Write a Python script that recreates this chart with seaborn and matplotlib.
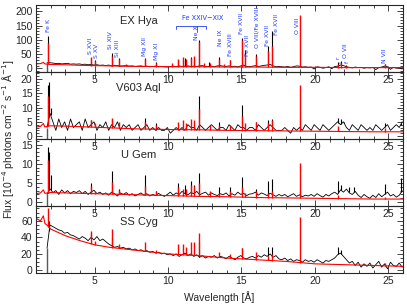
import numpy as np
import matplotlib
matplotlib.use("Agg")
import matplotlib.pyplot as plt
from matplotlib.ticker import MultipleLocator
import seaborn as sns

# measured spectra are binned on a regular grid starting at the detector edge
bin_start = 1.75
bin_step = 0.2

# wavelengths where the model continuum is sampled
knots = [1.0, 1.3, 1.5, 1.6, 1.8, 2, 3, 4, 5, 6, 7, 8, 9, 10,
         12, 14, 16, 18, 20, 22, 24, 26]

# ---- EX Hya
exhya_flux = [20, 20, 19, 17, 18, 16, 17, 18, 15, 16,
              15, 16, 14, 15, 13, 14, 12, 13, 11, 12,
              10, 12, 9, 11, 10, 8, 9, 10, 8, 9,
              7, 8, 9, 7, 8, 6, 7, 8, 6, 7,
              6, 5, 7, 8, 6, 9, 7, 8, 9, 7,
              8, 7, 9, 10, 6, 7, 8, 6, 9, 10,
              8, 7, 9, 6, 8, 5, 9, 12, 7, 6,
              8, 10, 7, 9, 11, 12, 14, 9, 6, 7,
              6, 5, 7, 4, 6, 9, 8, 5, 6, 4,
              5, -2, 6, 4, 1, 3, 6, -1, 7, 8,
              12, 10, 6, 4, 2, 5, 3, 4, 1, 3,
              2, 4, -4, 3, 5, 8, 6, -3, 4, 1,
              3, -2]
exhya_obs_lines = [(1.85, 115), (4.73, 38), (5.04, 28), (6.18, 55), (6.65, 38),
                   (8.42, 37), (9.17, 22), (10.65, 30), (11.0, 30), (11.17, 35),
                   (11.53, 40), (11.77, 35), (12.13, 100), (12.82, 22), (13.45, 40),
                   (14.2, 30), (15.01, 105), (15.26, 65), (16.0, 50), (16.78, 80),
                   (17.07, 130), (21.6, 22), (21.8, 26), (22.1, 12), (24.78, 14)]
exhya_cont = [16, 17, 21, 16, 15, 14, 13, 11, 10, 9, 8, 7, 7, 6,
              6, 5, 5, 4, 4, 3, 3, 3]
exhya_mod_lines = [(1.85, 90), (4.73, 40), (5.04, 25), (6.18, 45), (6.65, 33),
                   (7.1, 14), (8.42, 33), (9.17, 20), (10.24, 18), (10.65, 33),
                   (11.02, 40), (11.25, 32), (11.53, 38), (11.77, 42), (12.13, 93),
                   (12.43, 18), (12.84, 20), (13.45, 32), (13.82, 15), (14.2, 28),
                   (15.01, 100), (15.26, 50), (16.0, 45), (16.78, 60), (17.07, 80),
                   (18.97, 188), (21.6, 15), (21.8, 18), (22.1, 10), (24.78, 15)]

# ---- V603 Aql
v603_flux = [3, 8, 5, 2, 6, 3, 5, 2, 6, 3,
             4, 5, 2, 6, 3, 4, 5, 2, 4, 3,
             5, 2, 4, 3, 5, 2, 4, 3, 4, 2,
             3, 4, 2, 3, 4, 2, 3, 2, 3, 2,
             2, 3, 1, 2, 3, 2, 3, 2, 4, 3,
             3, 2, 4, 3, 2, 3, 4, 3, 2, 3,
             3, 2, 4, 3, 2, 4, 3, 3, 2, 3,
             3, 2, 4, 3, 2, 3, 4, 3, 2, 2,
             2, 3, 2, 1, 3, 2, 3, 2, 4, 3,
             2, 4, 3, 2, 4, 3, 2, 3, 4, 5,
             4, 5, 3, 2, 4, 3, 2, 4, 3, 2,
             3, 2, 4, 3, 2, 3, 4, 2, 3, 4,
             3, 5]
v603_obs_lines = [(1.8, 18), (1.9, 19), (2.0, 10), (4.73, 5.5), (6.18, 6),
                  (8.42, 6.5), (9.17, 4.5), (12.13, 14), (13.45, 5), (15.01, 11),
                  (16.0, 5), (16.8, 5.5), (17.1, 6), (18.97, 6), (21.6, 6.5),
                  (21.8, 6), (22.0, 5), (24.8, 4.5), (25.85, 4.5)]
v603_cont = [3.2, 3.4, 4.4, 3.2, 3.5, 3.6, 3.5, 3.3, 3.1, 2.9, 2.7, 2.5, 2.4, 2.3,
             2.2, 2.0, 1.9, 1.8, 1.7, 1.6, 1.5, 1.5]
v603_mod_lines = [(1.85, 14), (4.73, 5.5), (5.04, 4.5), (6.18, 6.3), (6.65, 5),
                  (8.42, 5), (9.17, 4), (10.65, 5), (11.02, 5.5), (11.25, 4.5),
                  (11.53, 6), (11.77, 5.5), (12.13, 9.5), (12.84, 4), (13.45, 4),
                  (14.2, 4), (15.01, 7), (15.26, 4.5), (16.0, 5), (16.78, 4.5),
                  (17.07, 5.5), (18.97, 18), (21.6, 3.5), (24.78, 3)]

# ---- U Gem
ugem_flux = [2.0, 3.5, 2.5, 3.0, 2.0, 3.2, 2.4, 3.0, 2.2, 2.8,
             2.5, 3.0, 2.2, 2.8, 2.0, 2.6, 3.1, 2.2, 2.6, 2.0,
             2.4, 1.8, 2.6, 2.2, 1.6, 2.4, 2.0, 2.5, 1.8, 2.2,
             1.6, 2.0, 2.4, 1.8, 2.2, 1.6, 2.0, 1.7, 2.3, 1.8,
             1.5, 2.0, 2.6, 1.8, 2.4, 2.0, 2.8, 2.2, 1.9, 2.5,
             2.2, 2.8, 1.9, 2.3, 2.6, 1.8, 2.4, 2.0, 1.7, 2.2,
             1.9, 2.4, 1.6, 2.2, 1.8, 2.6, 2.0, 2.3, 1.7, 2.1,
             2.2, 2.6, 1.8, 2.4, 2.1, 1.7, 2.3, 1.9, 1.5, 2.0,
             1.6, 2.0, 1.4, 1.8, 2.2, 1.5, 1.9, 1.4, 1.8, 1.6,
             2.0, 1.5, 2.2, 1.7, 1.3, 2.0, 1.6, 2.2, 2.6, 2.0,
             3.2, 2.6, 3.4, 2.4, 2.0, 2.8, 1.8, 1.2, 2.0, 1.4,
             1.0, 1.8, 1.2, 2.2, 1.4, 2.0, 2.6, 1.6, 2.0, 1.3,
             1.8, 3.0]
ugem_obs_lines = [(1.8, 14.5), (1.9, 13), (2.0, 7), (4.73, 5), (6.18, 8),
                  (6.65, 3.5), (8.42, 7), (9.17, 3), (10.65, 5), (11.17, 4.5),
                  (11.53, 5.5), (11.77, 4.5), (12.13, 7.5), (13.45, 4), (14.2, 4),
                  (15.01, 6.5), (16.0, 3.5), (16.78, 5.5), (17.07, 6), (18.97, 3),
                  (21.6, 5.5), (21.8, 4.5), (22.3, 4), (22.7, 4), (24.78, 4.8),
                  (25.9, 6.3)]
ugem_cont = [2.2, 2.4, 3.2, 2.3, 2.4, 2.5, 2.4, 2.3, 2.2, 2.1, 2.0, 1.9, 1.8, 1.7,
             1.5, 1.4, 1.2, 1.1, 1.0, 0.9, 0.8, 0.8]
ugem_mod_lines = [(1.85, 11), (4.73, 4.2), (5.04, 3), (6.18, 5.3), (6.65, 3.2),
                  (8.42, 4.2), (9.17, 2.8), (10.65, 4), (11.02, 3.5), (11.25, 3.5),
                  (11.53, 4.5), (11.77, 4.2), (12.13, 5), (12.84, 3), (13.45, 2.5),
                  (14.2, 2.8), (15.01, 4), (15.26, 2.5), (16.0, 3), (16.78, 2.5),
                  (17.07, 3), (18.97, 10.2), (21.6, 1.8), (24.78, 1.4)]

# ---- SS Cyg
sscyg_flux = [27, 55, 53, 51, 49, 48, 45, 46, 43, 42,
              40, 38, 41, 39, 36, 40, 37, 41, 36, 38,
              35, 32, 30, 28, 29, 27, 28, 26, 27, 25,
              26, 24, 25, 23, 24, 22, 23, 21, 22, 20,
              21, 19, 20, 18, 20, 17, 19, 21, 18, 20,
              17, 19, 16, 18, 15, 17, 16, 18, 15, 17,
              16, 14, 17, 15, 13, 16, 18, 15, 14, 16,
              17, 15, 18, 16, 19, 17, 20, 16, 18, 14,
              13, 15, 12, 14, 11, 13, 12, 10, 13, 11,
              12, 10, 13, 11, 9, 12, 11, 13, 15, 19,
              21, 17, 13, 9, 11, 6, 10, 4, 8, 5,
              9, 3, 7, 11, 4, 8, 2, 10, 6, 5,
              9, 4]
sscyg_obs_lines = [(1.9, 60), (4.73, 45), (6.18, 40), (12.13, 35), (15.01, 27),
                   (16.78, 28), (17.07, 28), (21.6, 28), (21.8, 25)]
sscyg_cont = [63, 60, 66, 57, 54, 50, 42, 36, 31, 28, 26, 24, 22, 20,
              18, 15, 13, 11, 8, 7, 6, 5]
sscyg_mod_lines = [(1.85, 76), (4.73, 48), (5.04, 36), (6.18, 50), (6.65, 32),
                   (8.42, 35), (9.17, 25), (10.65, 32), (11.02, 32), (11.25, 28),
                   (11.53, 34), (11.77, 35), (12.13, 45), (13.45, 22), (14.2, 20),
                   (15.01, 27), (16.0, 22), (16.78, 18), (17.07, 20), (18.97, 65),
                   (24.78, 9)]

# how far the spectrum drops at the detector edge (first bin)
edge_dip = [-20, -2, -2, -5]

# line identifications in the top panel: (wavelength, label bottom, text)
ion_labels = [(1.86, 127, "Fe K"), (4.73, 50, "S XVI"), (5.14, 37, "S XV"),
              (6.09, 67, "Si XIV"), (6.57, 40, "Si XIII"), (8.41, 43, "Mg XII"),
              (9.23, 30, "Mg XI"), (11.96, 100, "Ne X"), (13.6, 77, "Ne IX"),
              (14.28, 43, "Fe XVIII"), (15.03, 120, "Fe XVII"), (15.38, 43, "Fe XVII"),
              (16.06, 70, "O VIII/Fe XVIII"), (16.8, 77, "Fe XVII"),
              (17.38, 117, "Fe XVII"), (18.79, 120, "O VIII"), (21.59, 33, "r"),
              (21.8, 18, "i"), (22.07, 37, "O VII"), (22.2, 18, "f"),
              (24.73, 20, "N VII")]

stars = [("EX Hya", exhya_flux, exhya_obs_lines, exhya_cont, exhya_mod_lines),
         ("V603 Aql", v603_flux, v603_obs_lines, v603_cont, v603_mod_lines),
         ("U Gem", ugem_flux, ugem_obs_lines, ugem_cont, ugem_mod_lines),
         ("SS Cyg", sscyg_flux, sscyg_obs_lines, sscyg_cont, sscyg_mod_lines)]
ylims = [(-12, 222), (-1, 22.5), (-1, 16.5), (-3, 78)]
ymajor = [50, 5, 5, 20]
yminor = [10, 1, 1, 5]

blue = "#1f3cff"

sns.set_style("ticks")
plt.rcParams["font.family"] = ["Liberation Sans", "DejaVu Sans"]
plt.rcParams["mathtext.fontset"] = "dejavusans"

fig, axes = plt.subplots(4, 1, figsize=(4.07, 3.06), dpi=100, sharex=True)
fig.subplots_adjust(left=0.0885, right=0.990, bottom=0.108, top=0.984, hspace=0)


def draw_panel(ax, name, flux, obs_lines, cont, mod_lines, dip):
    wave = bin_start + bin_step * np.arange(len(flux))
    sns.lineplot(x=wave, y=flux, ax=ax, color="black", lw=0.6, estimator=None)
    # drop of the counts at the detector edge
    ax.vlines(wave[0], dip, flux[0], color="0.35", lw=1.0)
    w_obs = np.array([l[0] for l in obs_lines])
    f_obs = np.array([l[1] for l in obs_lines])
    ax.vlines(w_obs, np.interp(w_obs, wave, flux), f_obs, color="black", lw=0.8)

    sns.lineplot(x=knots, y=cont, ax=ax, color="red", lw=0.8, estimator=None)
    w_mod = np.array([l[0] for l in mod_lines])
    f_mod = np.array([l[1] for l in mod_lines])
    ax.vlines(w_mod, np.interp(w_mod, knots, cont), f_mod, color="red", lw=1.0)

    ax.text(8.0, 0.76, name, transform=ax.get_xaxis_transform(),
            ha="center", va="center", fontsize=8)


for i, ax in enumerate(axes):
    draw_panel(ax, *stars[i], edge_dip[i])
    ax.set_facecolor("none")
    ax.set_xlim(1.0, 26.0)
    ax.set_ylim(*ylims[i])
    ax.xaxis.set_major_locator(MultipleLocator(5))
    ax.xaxis.set_minor_locator(MultipleLocator(1))
    ax.yaxis.set_major_locator(MultipleLocator(ymajor[i]))
    ax.yaxis.set_minor_locator(MultipleLocator(yminor[i]))
    ax.tick_params(which="both", direction="in", top=True, right=True,
                   labelbottom=True, labelsize=7.5, width=0.6, pad=2.5)
    ax.tick_params(which="major", length=4)
    ax.tick_params(which="minor", length=2)
    for s in ax.spines.values():
        s.set_linewidth(0.8)
    ax.set_xlabel("")
    ax.set_ylabel("")

# identifications on EX Hya
top = axes[0]
for w, h, txt in ion_labels:
    top.text(w, h, txt, rotation=90, ha="center", va="bottom",
             fontsize=4.4, color=blue, family="DejaVu Sans")
top.plot([10.53, 10.53, 12.58, 12.58], [137, 150, 150, 137], color=blue, lw=0.6)
top.plot([11.95, 11.95], [150, 128], color=blue, lw=0.6)
top.text(12.34, 177, "Fe XXIV\u2212XIX", ha="center", va="center",
         fontsize=4.8, color=blue, family="DejaVu Sans")

fig.text(0.02, 0.547, r"Flux [10$^{-4}$ photons cm$^{-2}$ s$^{-1}$ Å$^{-1}$]",
         rotation=90, ha="center", va="center", fontsize=7.5)
fig.text(0.539, 0.03, "Wavelength [Å]", ha="center", va="center", fontsize=7.5)

fig.savefig("out.png", dpi=100)
